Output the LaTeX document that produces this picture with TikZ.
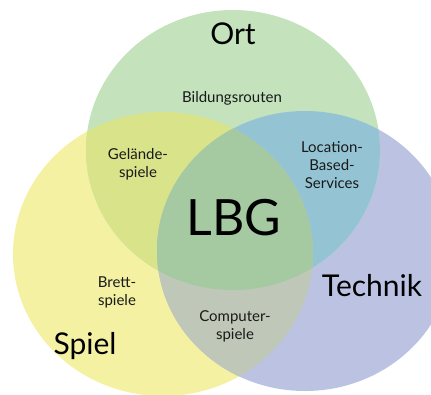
\documentclass[tikz,border=0pt]{standalone}
\usepackage{fontspec}
\setmainfont{Lato}
\definecolor{cG}{HTML}{C4E2BC}
\definecolor{cY}{HTML}{F4F2A2}
\definecolor{cB}{HTML}{BCC2E2}
\definecolor{cGY}{HTML}{D8E38A}
\definecolor{cGB}{HTML}{94C4D4}
\definecolor{cYB}{HTML}{BFC8B8}
\definecolor{cGYB}{HTML}{A5C9A0}
\begin{document}
\begin{tikzpicture}[x=1pt,y=-1pt,
  small/.style={font=\fontsize{15}{18}\selectfont, align=center, text=black!90},
  big/.style={font=\fontsize{30}{33}\selectfont, text=black},
  huge/.style={font=\fontsize{50}{52}\selectfont, text=black}]
\useasboundingbox (0,0) rectangle (431,394);
\def\Gc{(233,150) ellipse [x radius=147, y radius=140]}
\def\Yc{(163,254) ellipse [x radius=150, y radius=142]}
\def\Bc{(305,251) ellipse [x radius=148, y radius=140]}
\begin{scope}
\clip (0,0) rectangle (431,394);
\fill[cY] \Yc;
\fill[cB] \Bc;
\fill[cG] \Gc;
\begin{scope}\clip \Gc; \fill[cGY] \Yc; \end{scope}
\begin{scope}\clip \Gc; \fill[cGB] \Bc; \end{scope}
\begin{scope}\clip \Yc; \fill[cYB] \Bc; \end{scope}
\begin{scope}\clip \Gc; \clip \Yc; \fill[cGYB] \Bc; \end{scope}
\end{scope}
\node[big] (ort) at (233,34) {Ort};
\node[big] (technik) at (372,286) {Technik};
\node[big] (spiel) at (85,346) {Spiel};
\node[huge] (lbg) at (234,218) {LBG};
\node[small] (bild) at (232,98) {Bildungsrouten};
\node[small] (gel) at (138,164) {Gelände-\\spiele};
\node[small] (lbs) at (332,165) {Location-\\Based-\\Services};
\node[small] (brett) at (117,292) {Brett-\\spiele};
\node[small] (comp) at (235,326) {Computer-\\spiele};
\end{tikzpicture}
\end{document}
